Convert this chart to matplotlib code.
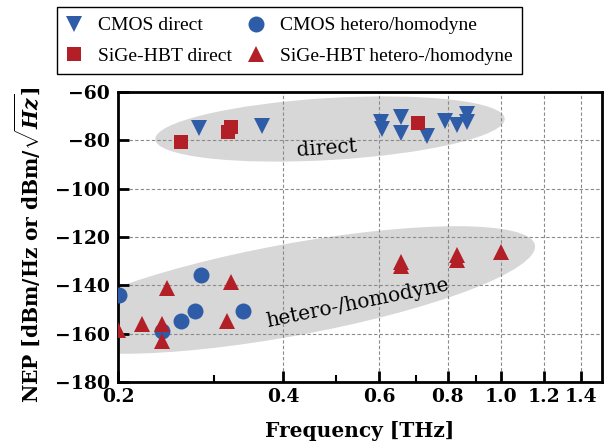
import matplotlib
matplotlib.use("Agg")
import matplotlib.pyplot as plt
from matplotlib.patches import Ellipse
from matplotlib.ticker import FixedLocator, FixedFormatter, NullFormatter

plt.rcParams['font.family'] = ['DejaVu Serif']
plt.rcParams['mathtext.fontset'] = 'custom'
plt.rcParams['mathtext.rm'] = 'DejaVu Serif:bold'
plt.rcParams['mathtext.it'] = 'DejaVu Serif:bold:italic'
plt.rcParams['mathtext.bf'] = 'DejaVu Serif:bold'

# ---- data ----
cmos_direct_f = [0.281, 0.367, 0.603, 0.608, 0.656, 0.656, 0.733, 0.79, 0.832, 0.868, 0.868]
cmos_direct_nep = [-75.0, -74.0, -72.5, -75.5, -70.5, -77.0, -78.0, -71.8, -73.8, -69.0, -72.5]

sige_direct_f = [0.261, 0.317, 0.321, 0.706]
sige_direct_nep = [-80.5, -76.4, -74.5, -72.7]

cmos_het_f = [0.201, 0.241, 0.261, 0.276, 0.284, 0.338]
cmos_het_nep = [-144.0, -158.8, -154.8, -150.6, -135.8, -150.7]

sige_het_f = [0.200, 0.221, 0.241, 0.241, 0.246, 0.316, 0.321, 0.656, 0.656, 0.83, 0.83, 1.0]
sige_het_nep = [-158.5, -156.1, -156.1, -163.0, -141.3, -154.7, -138.6, -130.3, -132.1, -127.6, -129.6, -126.2]

xticks_major = [0.2, 0.4, 0.6, 0.8, 1.0, 1.2, 1.4]
xtick_labels = ['0.2', '0.4', '0.6', '0.8', '1.0', '1.2', '1.4']
xticks_minor = [0.3, 0.5, 0.7, 0.9]
yticks = [-180, -160, -140, -120, -100, -80, -60]
ytick_labels = ['\u2212180', '\u2212160', '\u2212140', '\u2212120', '\u2212100', '\u221280', '\u221260']

labels = ['CMOS direct', 'SiGe-HBT direct', 'CMOS hetero/homodyne', 'SiGe-HBT hetero-/homodyne']

blue = '#2e5ca6'
red = '#b21f26'
gray = '#d7d7d7'
serif2 = 'Liberation Serif'

W, H = 611, 447
fig = plt.figure(figsize=(W / 100, H / 100), dpi=100)
ax = fig.add_axes([118 / W, 1 - 382 / H, (602 - 118) / W, (382 - 92) / H])
ax.set_xscale('log')
ax.set_xlim(0.2, 1.53)
ax.set_ylim(-180, -60)

# ellipses (pixel geometry -> inches)
e1 = Ellipse((330 / 100, (H - 129) / 100), 3.50, 0.62, angle=3.4,
             facecolor=gray, edgecolor='none', transform=fig.dpi_scale_trans, zorder=0.2)
e2 = Ellipse((290 / 100, (H - 290) / 100), 4.98, 0.92, angle=10.4,
             facecolor=gray, edgecolor='none', transform=fig.dpi_scale_trans, zorder=0.2)
ax.add_patch(e1)
ax.add_patch(e2)

ax.set_axisbelow(True)
ax.grid(True, which='major', linestyle=(0, (3, 2)), color='#8a8a8a', linewidth=0.8)

ms = 11.5
h1, = ax.plot(cmos_direct_f, cmos_direct_nep, 'v', color=blue, ms=ms, mew=0, zorder=3)
h2, = ax.plot(sige_direct_f, sige_direct_nep, 's', color=red, ms=10.5, mew=0, zorder=3)
h3, = ax.plot(cmos_het_f, cmos_het_nep, 'o', color=blue, ms=ms, mew=0, zorder=3)
h4, = ax.plot(sige_het_f, sige_het_nep, '^', color=red, ms=ms, mew=0, zorder=3)

ax.text(0.481, -83.3, 'direct', rotation=4, ha='center', va='center', fontsize=14.5, zorder=2)
ax.text(0.547, -147.5, 'hetero-/homodyne', rotation=11.5, ha='center', va='center',
        fontsize=14.5, zorder=2)

ax.xaxis.set_major_locator(FixedLocator(xticks_major))
ax.xaxis.set_major_formatter(FixedFormatter(xtick_labels))
ax.xaxis.set_minor_locator(FixedLocator(xticks_minor))
ax.xaxis.set_minor_formatter(NullFormatter())
ax.yaxis.set_major_locator(FixedLocator(yticks))
ax.yaxis.set_major_formatter(FixedFormatter(ytick_labels))
ax.yaxis.set_minor_locator(FixedLocator([]))

ax.tick_params(which='major', direction='in', length=8, width=2, labelsize=13.5, pad=4)
ax.tick_params(axis='y', which='major', pad=6)
ax.tick_params(which='minor', direction='in', length=5, width=1.5)
for lab in ax.get_xticklabels() + ax.get_yticklabels():
    lab.set_fontweight('bold')

for s in ax.spines.values():
    s.set_linewidth(2)

ax.set_xlabel('Frequency [THz]', fontsize=14.5, fontweight='bold', labelpad=11)
ax.set_ylabel(r'NEP [dBm/Hz or dBm/$\sqrt{Hz}$]', fontsize=14.5, fontweight='bold')
ax.yaxis.set_label_coords(-0.158, 0.472)

leg = fig.legend([h1, h2, h3, h4], labels, ncol=2, loc='upper left',
                 bbox_to_anchor=(57 / W, 1 - 7 / H), bbox_transform=fig.transFigure,
                 borderaxespad=0, fancybox=False, edgecolor='black', framealpha=1,
                 prop={'family': serif2, 'size': 14}, handletextpad=0.86, columnspacing=0.85,
                 borderpad=0.5, labelspacing=0.65, handlelength=0.75)
leg.get_frame().set_linewidth(1.0)

fig.savefig('out.png', dpi=100)
